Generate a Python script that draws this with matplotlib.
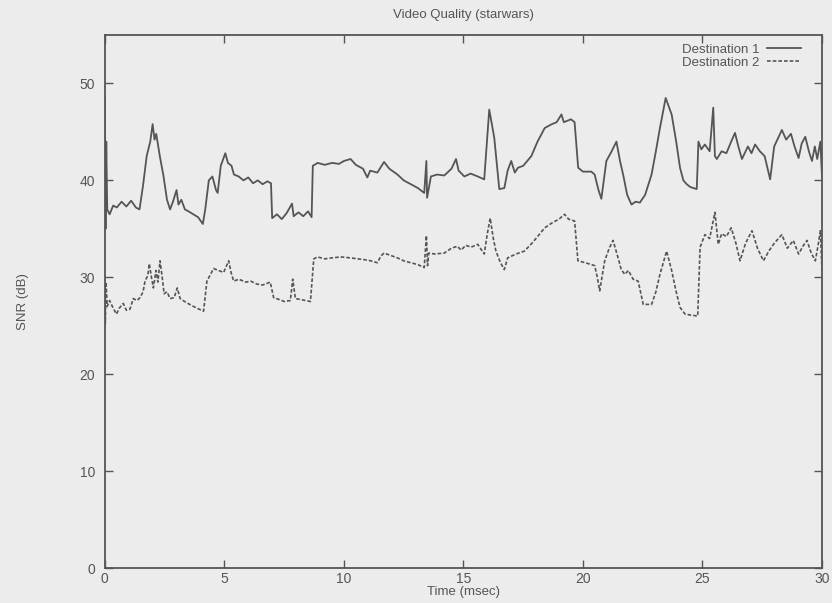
import matplotlib

matplotlib.use("Agg")
import matplotlib.pyplot as plt

# Destination 1 (time in msec, SNR in dB)
t1 = [0.00, 0.03, 0.06, 0.10, 0.2, 0.35, 0.5, 0.7, 0.9, 1.1, 1.3, 1.45, 1.6, 1.75, 1.9,
      2.0, 2.08, 2.15, 2.3, 2.45, 2.6, 2.73, 2.85, 3.0, 3.08, 3.2, 3.35, 3.5, 3.7, 3.9,
      4.1, 4.2, 4.35, 4.5, 4.65, 4.72, 4.85, 5.04, 5.15, 5.3, 5.4, 5.6, 5.8, 6.0, 6.2,
      6.4, 6.6, 6.8, 6.95, 7.0, 7.2, 7.4, 7.6, 7.83, 7.9, 8.1, 8.3, 8.5, 8.65, 8.7,
      8.9, 9.2, 9.5, 9.8, 10.0, 10.28, 10.5, 10.8, 10.98, 11.1, 11.4, 11.68, 11.9, 12.24,
      12.5, 12.8, 13.1, 13.36, 13.45, 13.48, 13.64, 13.9, 14.2, 14.5, 14.69, 14.8, 15.04,
      15.3, 15.6, 15.87, 16.08, 16.29, 16.5, 16.71, 16.85, 17.0, 17.15, 17.28, 17.5,
      17.84, 18.1, 18.4, 18.7, 18.9, 19.1, 19.2, 19.5, 19.65, 19.8, 20.0, 20.35, 20.49,
      20.65, 20.77, 20.98, 21.2, 21.4, 21.55, 21.68, 21.85, 22.03, 22.2, 22.38, 22.6,
      22.87, 23.05, 23.22, 23.46, 23.71, 23.9, 24.06, 24.2, 24.34, 24.5, 24.76, 24.83,
      24.95, 25.1, 25.3, 25.45, 25.52, 25.6, 25.8, 26.0, 26.2, 26.36, 26.5, 26.65, 26.9,
      27.05, 27.2, 27.4, 27.6, 27.83, 28.0, 28.32, 28.5, 28.7, 28.85, 29.02, 29.15, 29.3,
      29.45, 29.58, 29.7, 29.8, 29.93, 30.0]
snr1 = [48.5, 35.0, 44.0, 37.0, 36.5, 37.4, 37.2, 37.8, 37.3, 37.9, 37.2, 37.0, 39.5, 42.5, 44.0,
        45.8, 44.2, 44.8, 42.5, 40.5, 38.0, 37.0, 37.8, 39.0, 37.5, 38.0, 37.0, 36.8, 36.5, 36.2,
        35.5, 37.0, 40.0, 40.4, 39.0, 38.7, 41.5, 42.8, 41.8, 41.5, 40.6, 40.4, 40.0, 40.3, 39.7,
        40.0, 39.6, 39.9, 39.7, 36.1, 36.5, 36.0, 36.6, 37.6, 36.3, 36.7, 36.3, 36.8, 36.2, 41.5,
        41.8, 41.6, 41.8, 41.7, 42.0, 42.2, 41.6, 41.2, 40.3, 41.0, 40.8, 41.9, 41.2, 40.6,
        40.0, 39.6, 39.2, 38.7, 42.0, 38.2, 40.4, 40.6, 40.5, 41.2, 42.2, 41.0, 40.4,
        40.7, 40.4, 40.1, 47.3, 44.4, 39.1, 39.2, 41.0, 42.0, 40.8, 41.3, 41.5,
        42.5, 44.0, 45.4, 45.8, 46.0, 46.8, 46.0, 46.3, 46.0, 41.3, 40.9, 40.9, 40.6,
        39.0, 38.1, 42.0, 43.0, 44.0, 42.0, 40.6, 38.5, 37.5, 37.8, 37.7, 38.5,
        40.6, 43.0, 45.4, 48.5, 46.8, 44.0, 41.3, 40.0, 39.6, 39.3, 39.1, 44.0,
        43.2, 43.7, 43.0, 47.5, 42.5, 42.2, 43.0, 42.8, 44.0, 44.9, 43.5, 42.2, 43.5,
        42.8, 43.7, 43.0, 42.5, 40.1, 43.5, 45.2, 44.2, 44.8, 43.5, 42.3, 43.8, 44.5,
        43.0, 42.0, 43.5, 42.2, 44.0, 40.4]

# Destination 2
t2 = [0.00, 0.02, 0.05, 0.1, 0.2, 0.35, 0.49, 0.6, 0.77, 0.9, 1.05, 1.19, 1.35, 1.47, 1.6,
      1.68, 1.8, 1.86, 1.95, 2.03, 2.14, 2.22, 2.31, 2.4, 2.48, 2.6, 2.73, 2.9, 3.03, 3.15,
      3.4, 3.7, 3.95, 4.13, 4.27, 4.4, 4.55, 4.75, 4.97, 5.18, 5.28, 5.39, 5.6, 5.9, 6.1,
      6.36, 6.6, 6.92, 7.06, 7.3, 7.5, 7.76, 7.86, 7.97, 8.2, 8.4, 8.6, 8.74, 8.9, 9.2,
      9.5, 9.86, 10.28, 10.6, 10.9, 11.12, 11.4, 11.55, 11.68, 11.9, 12.24, 12.5, 12.8,
      13.1, 13.36, 13.45, 13.5, 13.55, 13.8, 14.2, 14.5, 14.75, 14.9, 15.1, 15.32, 15.6,
      15.87, 16.0, 16.12, 16.25, 16.36, 16.55, 16.71, 16.85, 17.2, 17.55, 17.9, 18.2,
      18.4, 18.7, 19.0, 19.23, 19.4, 19.65, 19.79, 20.1, 20.49, 20.6, 20.7, 20.91, 21.1,
      21.26, 21.47, 21.6, 21.75, 21.9, 22.1, 22.31, 22.52, 22.87, 23.05, 23.22, 23.5,
      23.71, 23.9, 24.06, 24.27, 24.5, 24.8, 24.9, 25.1, 25.3, 25.52, 25.66, 25.8, 26.0,
      26.2, 26.4, 26.57, 26.8, 27.07, 27.3, 27.55, 27.8, 28.0, 28.32, 28.55, 28.8, 29.02,
      29.2, 29.37, 29.55, 29.72, 29.85, 29.93, 30.0]
snr2 = [29.0, 25.2, 29.5, 27.0, 27.6, 26.8, 26.2, 26.8, 27.3, 26.6, 26.7, 27.8, 27.6, 27.9, 28.5,
        29.6, 30.2, 31.4, 30.0, 28.9, 30.7, 29.5, 31.7, 30.0, 28.3, 28.5, 27.8, 27.9, 28.9, 27.8,
        27.4, 27.0, 26.7, 26.5, 29.6, 30.2, 30.9, 30.7, 30.5, 31.7, 30.5, 29.6, 29.8, 29.5, 29.6,
        29.3, 29.2, 29.5, 27.9, 27.7, 27.5, 27.6, 29.8, 27.8, 27.7, 27.6, 27.5, 31.9, 32.1, 31.9,
        32.0, 32.1, 32.0, 31.9, 31.8, 31.7, 31.5, 32.2, 32.5, 32.3, 32.0, 31.7, 31.5,
        31.3, 31.0, 34.3, 31.2, 32.5, 32.4, 32.5, 33.0, 33.2, 32.8, 33.3, 33.1, 33.4,
        32.4, 34.5, 36.1, 34.0, 32.7, 31.5, 30.8, 32.0, 32.4, 32.7, 33.6, 34.5,
        35.1, 35.6, 36.0, 36.5, 36.0, 35.8, 31.7, 31.5, 31.2, 30.0, 28.6, 31.7, 33.0,
        33.8, 32.0, 30.8, 30.3, 30.7, 29.8, 29.6, 27.2, 27.2, 28.5, 30.3, 32.7,
        30.7, 28.5, 26.9, 26.2, 26.1, 26.0, 33.1, 34.4, 34.0, 36.7, 33.4, 34.5, 34.2,
        35.1, 33.5, 31.7, 33.5, 34.8, 33.0, 31.7, 32.8, 33.5, 34.4, 33.0, 33.8, 32.4,
        33.2, 33.8, 32.5, 31.7, 33.5, 34.8, 30.7]

xticks = [0, 5, 10, 15, 20, 25, 30]
yticks = [0, 10, 20, 30, 40, 50]

ink = "#555555"
paper = "#ececec"

plt.rcParams["font.family"] = ["Liberation Sans", "DejaVu Sans"]
plt.rcParams["text.color"] = ink
plt.rcParams["axes.labelcolor"] = ink

fig = plt.figure(figsize=(8.32, 6.03), dpi=100, facecolor=paper)
ax = fig.add_axes([0.126, 0.058, 0.862, 0.884], facecolor=paper)

ax.plot(t1, snr1, color=ink, linewidth=1.3, label="Destination 1")
ax.plot(t2, snr2, color=ink, linewidth=1.2, linestyle=(0, (2.2, 1.2)), label="Destination 2")

ax.set_xlim(0, 30)
ax.set_ylim(0, 55)
ax.set_xticks(xticks)
ax.set_yticks(yticks)
ax.tick_params(direction="in", length=6, width=1, color=ink, labelcolor=ink,
               labelsize=10, top=True, right=True)
ax.tick_params(axis="x", pad=3)
ax.tick_params(axis="y", pad=7)
for side in ax.spines.values():
    side.set_color(ink)
    side.set_linewidth(1.3)

ax.set_title("Video Quality (starwars)", fontsize=9.5, pad=12)
ax.set_xlabel("Time (msec)", fontsize=9.5, labelpad=0)
ax.set_ylabel("SNR (dB)", fontsize=9.5, labelpad=36)

ax.legend(loc="upper right", bbox_to_anchor=(0.983, 1.0), frameon=False,
          markerfirst=False, fontsize=9.5, handlelength=2.6, labelspacing=0.05,
          borderaxespad=0.25, handletextpad=0.6)

fig.savefig("out.png", dpi=100, facecolor=paper)
